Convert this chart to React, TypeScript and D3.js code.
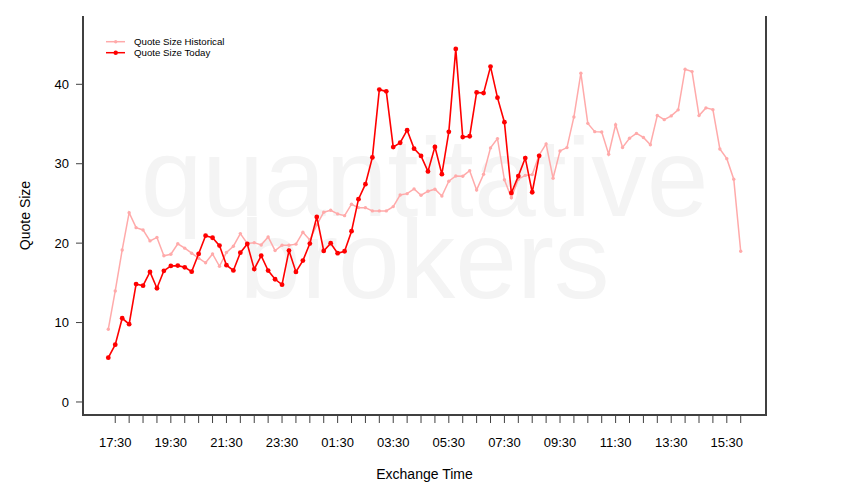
import React from "react";
import * as d3 from "d3";

// 15-minute buckets starting at 17:15 (index 0)
const historical: number[] = [
  9.16, 13.98, 19.14, 23.84, 21.95, 21.66, 20.28, 20.72, 18.41, 18.6,
  19.92, 19.37, 18.73, 18.1, 17.53, 18.64, 17.09, 18.83, 19.61, 21.2,
  19.96, 20.06, 19.77, 20.78, 19.06, 19.74, 19.74, 19.87, 21.37, 20.4,
  22.3, 23.89, 24.14, 23.68, 23.46, 24.9, 24.47, 24.47, 24.06, 24.06,
  24.06, 24.6, 26.07, 26.23, 26.83, 26.03, 26.54, 26.79, 25.94, 27.8,
  28.46, 28.43, 29.13, 26.7, 28.68, 31.99, 33.16, 27.98, 25.72, 28.05,
  28.53, 28.63, 31.1, 32.49, 28.17, 31.61, 32.03, 35.89, 41.4, 35.08,
  34.04, 34.0, 31.2, 34.91, 32.05, 33.21, 33.82, 33.31, 32.39, 36.08,
  35.55, 36.02, 36.78, 41.9, 41.6, 36.06, 37.03, 36.81, 31.86, 30.64,
  28.05, 18.98,
];

const today: number[] = [
  5.58, 7.22, 10.54, 9.79, 14.84, 14.65, 16.37, 14.32, 16.52, 17.13,
  17.17, 16.96, 16.41, 18.66, 20.94, 20.68, 19.69, 17.23, 16.56, 18.8,
  19.9, 16.73, 18.41, 16.54, 15.45, 14.77, 19.06, 16.37, 17.8, 19.94,
  23.3, 19.02, 19.99, 18.73, 18.98, 21.5, 25.54, 27.43, 30.79, 39.33,
  39.11, 32.09, 32.64, 34.22, 31.9, 30.98, 29.03, 32.12, 28.68, 34.01,
  44.46, 33.35, 33.46, 38.98, 38.89, 42.23, 38.32, 35.23, 26.32, 28.44,
  30.71, 26.41, 31.0,
];

const yTicks: number[] = [0, 10, 20, 30, 40];
const xTickLabels: string[] = ["17:30", "19:30", "21:30", "23:30", "01:30", "03:30", "05:30", "07:30", "09:30", "11:30", "13:30", "15:30"];
const seriesNames: string[] = ["Quote Size Historical", "Quote Size Today"];
const watermark: string[] = ["quantitative", "brokers"];

const W = 850;
const H = 500;
const L = 83, R = 766, T = 16, B = 415;
const STEP = 15; // minutes per bucket
const START_OFFSET = 15; // 17:30 is 15 minutes after 17:15

export default function App() {
  const n = historical.length;
  const last = (n - 1) * STEP;
  const pad = last * 0.04;
  const x = d3.scaleLinear().domain([-pad, last + pad]).range([L, R]);
  const y = d3.scaleLinear().domain([-1.64, 48.6]).range([B, T]);

  const line = d3
    .line<number>()
    .x((_, i) => x(i * STEP))
    .y((d) => y(d));

  const minorTicks = d3.range(START_OFFSET, last + 1, 30);
  const labelTicks = xTickLabels.map((t, i) => ({ t, m: START_OFFSET + i * 120 }));

  const font = "'Liberation Sans', Arial, Helvetica, sans-serif";
  const histColor = "#ffaaaa";
  const todayColor = "#ff0000";
  const axisColor = "#404040";
  const cx = (L + R) / 2;

  return (
    <svg
      width={W}
      height={H}
      style={{ position: "absolute", left: 0, top: 0, background: "#fff" }}
      fontFamily={font}
    >
      <rect x={0} y={0} width={W} height={H} fill="#fff" />
      {/* watermark */}
      <text fill="#f4f4f4" fontSize={111} textAnchor="middle" x={cx} y={216}>
        <tspan x={cx} y={216}>{watermark[0]}</tspan>
        <tspan x={cx} y={298}>{watermark[1]}</tspan>
      </text>

      {/* series */}
      <path d={line(historical) || ""} fill="none" stroke={histColor} strokeWidth={1.5} />
      {historical.map((d, i) => (
        <circle key={"h" + i} cx={x(i * STEP)} cy={y(d)} r={1.7} fill={histColor} />
      ))}
      <path d={line(today) || ""} fill="none" stroke={todayColor} strokeWidth={1.6} />
      {today.map((d, i) => (
        <circle key={"t" + i} cx={x(i * STEP)} cy={y(d)} r={2.4} fill={todayColor} />
      ))}

      {/* frame (left, bottom, right) */}
      <path
        d={`M${L},${T} L${L},${B} L${R},${B} L${R},${T}`}
        fill="none"
        stroke={axisColor}
        strokeWidth={2}
      />

      {/* y axis */}
      {yTicks.map((t) => (
        <g key={"y" + t}>
          <line x1={L - 7} x2={L} y1={y(t)} y2={y(t)} stroke={axisColor} strokeWidth={1} />
          <text x={L - 14} y={y(t)} dy="0.35em" textAnchor="end" fontSize={13} fill="#000">
            {t}
          </text>
        </g>
      ))}

      {/* x axis ticks */}
      {minorTicks.map((m) => (
        <line key={"xt" + m} x1={x(m)} x2={x(m)} y1={B} y2={B + 8} stroke={axisColor} strokeWidth={1} />
      ))}
      {labelTicks.map(({ t, m }) => (
        <text key={"xl" + t} x={x(m)} y={446.5} textAnchor="middle" fontSize={13} fill="#000">
          {t}
        </text>
      ))}

      {/* axis titles */}
      <text x={cx} y={479} textAnchor="middle" fontSize={14} fill="#000">
        Exchange Time
      </text>
      <text
        transform={`translate(30,${(T + B) / 2}) rotate(-90)`}
        textAnchor="middle"
        fontSize={14}
        fill="#000"
      >
        Quote Size
      </text>

      {/* legend */}
      {seriesNames.map((name, i) => {
        const ly = 41.7 + i * 11;
        const c = i === 0 ? histColor : todayColor;
        return (
          <g key={name}>
            <line x1={106} x2={125} y1={ly} y2={ly} stroke={c} strokeWidth={1.5} />
            <circle cx={115.7} cy={ly} r={i === 0 ? 1.7 : 2.2} fill={c} />
            <text x={134} y={ly} dy="0.35em" fontSize={9.7} fill="#000">
              {name}
            </text>
          </g>
        );
      })}
    </svg>
  );
}
